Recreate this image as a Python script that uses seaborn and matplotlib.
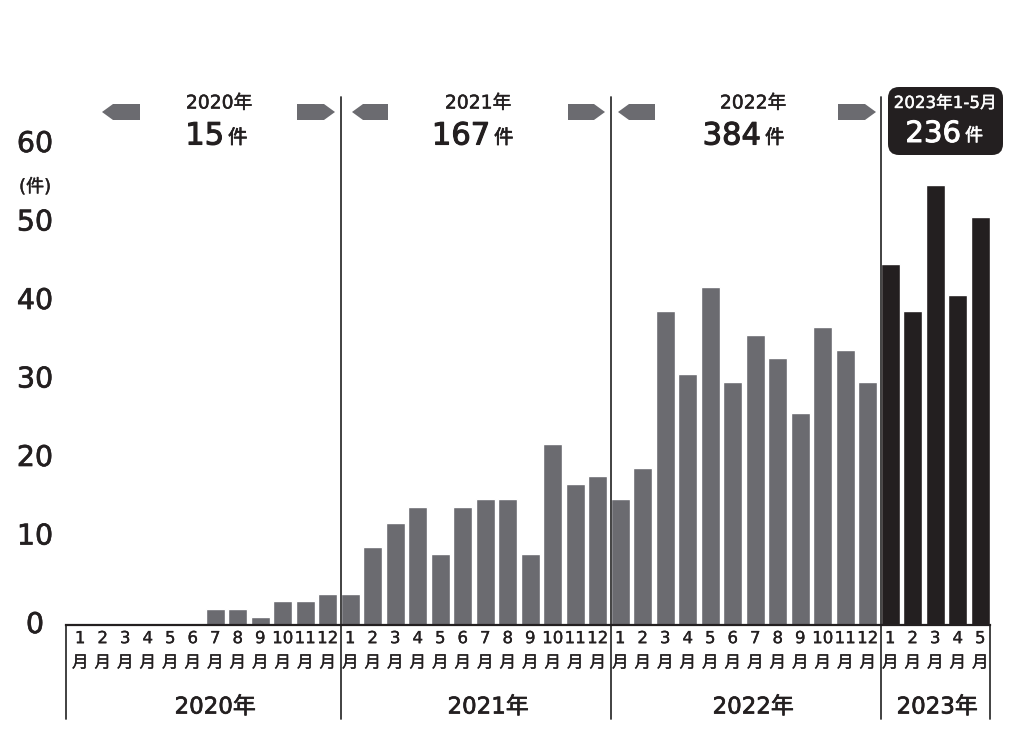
import numpy as np
import pandas as pd
import matplotlib
matplotlib.use("Agg")
import matplotlib.pyplot as plt
import matplotlib.transforms as mtransforms
import matplotlib.patheffects as pe
from matplotlib.patches import Polygon, FancyBboxPatch
import seaborn as sns

# ---------------- data ----------------
years = ["2020年", "2021年", "2022年", "2023年"]
counts_2020 = [0, 0, 0, 0, 0, 0, 2, 2, 1, 3, 3, 4]
counts_2021 = [4, 10, 13, 15, 9, 15, 16, 16, 9, 23, 18, 19]
counts_2022 = [16, 20, 40, 32, 43, 31, 37, 34, 27, 38, 35, 31]
counts_2023 = [46, 40, 56, 42, 52]
header_labels = ["2020年", "2021年", "2022年", "2023年1-5月"]
year_totals = ["15", "167", "384", "236"]
total_unit = "件"
y_ticks = [0, 10, 20, 30, 40, 50, 60]
unit_label = "(件)"

# ---------------- build table ----------------
rows = []
for yr, cts in zip(years, [counts_2020, counts_2021, counts_2022, counts_2023]):
    for m, c in enumerate(cts, start=1):
        rows.append({"key": f"{yr}-{m}", "month": f"{m}\n月", "count": c,
                     "group": "recent" if yr == "2023年" else "past"})
df = pd.DataFrame(rows)
n = len(df)

sns.set_theme(style="white")
plt.rcParams["font.family"] = ["DejaVu Sans", "Noto Sans CJK JP"]

W, H = 1024, 746
fig = plt.figure(figsize=(W / 100, H / 100), dpi=100)
fig.patch.set_facecolor("white")

def fx(px):
    return px / W

def fy(py):
    return 1 - py / H

def bold(lw, color):
    return [pe.withStroke(linewidth=lw, foreground=color)]

GRAY = "#6b6b70"
BLACK = "#231f20"

# axes: zero line at y=625px, top at 95px, from x=66 to 990 px
ax = fig.add_axes([fx(66), fy(625), (990 - 66) / W, (625 - 95) / H])
sns.barplot(data=df, x="key", y="count", hue="group", order=list(df["key"]),
            palette={"past": GRAY, "recent": BLACK}, dodge=False, width=0.86,
            saturation=1, errorbar=None, legend=False, ax=ax)

px_per_bar = 22.5
ax.set_xlim(-(80.2 - 66) / px_per_bar, (990 - 80.2) / px_per_bar)
scale = 7.85
ax.set_ylim(0, (625 - 95) / scale)
ax.set_xlabel("")
ax.set_ylabel("")
for s in ["top", "right", "left"]:
    ax.spines[s].set_visible(False)
ax.spines["bottom"].set_color(BLACK)
ax.spines["bottom"].set_linewidth(1.6)
ax.set_facecolor("none")

ax.set_xticks(range(n))
ax.set_xticklabels(df["month"], fontsize=12, linespacing=1.45, color=BLACK)
for lab in ax.get_xticklabels():
    lab.set_path_effects(bold(0.2, BLACK))
ax.tick_params(axis="x", length=0, pad=3)
ax.set_yticks([])

# y tick labels
ytrans = mtransforms.blended_transform_factory(fig.transFigure, ax.transData)
for v in y_ticks:
    t = ytrans if v == 0 else mtransforms.offset_copy(ytrans, fig=fig, y=10, units="dots")
    ax.text(fx(35), v, str(v), transform=t, ha="center", va="center",
            fontsize=20.5, color=BLACK, clip_on=False, path_effects=bold(0.5, BLACK))
fig.text(fx(35), fy(187), unit_label, ha="center", va="center", fontsize=13,
         color=BLACK, path_effects=bold(0.3, BLACK))

# separators and bracket lines
vtrans = mtransforms.blended_transform_factory(ax.transData, fig.transFigure)
for sep in [11.57, 23.57, 35.57]:
    ax.plot([sep, sep], [fy(719), fy(97)], transform=vtrans, color="#333333",
            lw=1.3, clip_on=False)
x0, x1 = ax.get_xlim()
for xe in [x0, x1]:
    ax.plot([xe, xe], [fy(719), fy(625)], transform=vtrans, color="#333333",
            lw=1.3, clip_on=False)

# bottom year labels
for lab, px in zip(years, [215, 488, 753, 937]):
    fig.text(fx(px), fy(707), lab, ha="center", va="center", fontsize=16.5,
             color=BLACK, path_effects=bold(0.5, BLACK))

# header arrows
inch = fig.dpi_scale_trans
def arrow(tip, end, yc=112, hh=8, head=11, color=GRAY):
    d = 1 if end > tip else -1
    pts = [(tip, yc), (tip + d * head, yc - hh), (end, yc - hh), (end, yc + hh),
           (tip + d * head, yc + hh)]
    pts = [(px / 100, (H - py) / 100) for px, py in pts]
    fig.add_artist(Polygon(pts, closed=True, facecolor=color, edgecolor="none",
                           transform=inch))

for lt, le, rs, rt in [(102, 140, 297, 335), (352, 388, 568, 605), (618, 655, 838, 876)]:
    arrow(lt, le)
    arrow(rt, rs)

# header texts
for i, (hc, nc) in enumerate([(219, 212), (478, 478), (753, 749)]):
    fig.text(fx(hc), fy(103), header_labels[i], ha="center", va="center",
             fontsize=13.5, color=BLACK, path_effects=bold(0.35, BLACK))
    fig.text(fx(nc + 12), fy(136), year_totals[i], ha="right", va="center",
             fontsize=22, color=BLACK, path_effects=bold(0.8, BLACK))
    fig.text(fx(nc + 16), fy(138), total_unit, ha="left", va="center",
             fontsize=14, color=BLACK, path_effects=bold(0.5, BLACK))

# 2023 box
box = FancyBboxPatch((888 / 100, (H - 155) / 100), 115 / 100, 68 / 100,
                     boxstyle="round,pad=0,rounding_size=0.11",
                     facecolor=BLACK, edgecolor="none", transform=inch)
fig.add_artist(box)
fig.text(fx(945), fy(103), header_labels[3], ha="center", va="center",
         fontsize=12, color="white", path_effects=bold(0.3, "white"))
fig.text(fx(961), fy(134), year_totals[3], ha="right", va="center",
         fontsize=21, color="white", path_effects=bold(0.7, "white"))
fig.text(fx(965), fy(136), total_unit, ha="left", va="center",
         fontsize=13, color="white", path_effects=bold(0.4, "white"))

fig.savefig("out.png", dpi=100, facecolor="white")
